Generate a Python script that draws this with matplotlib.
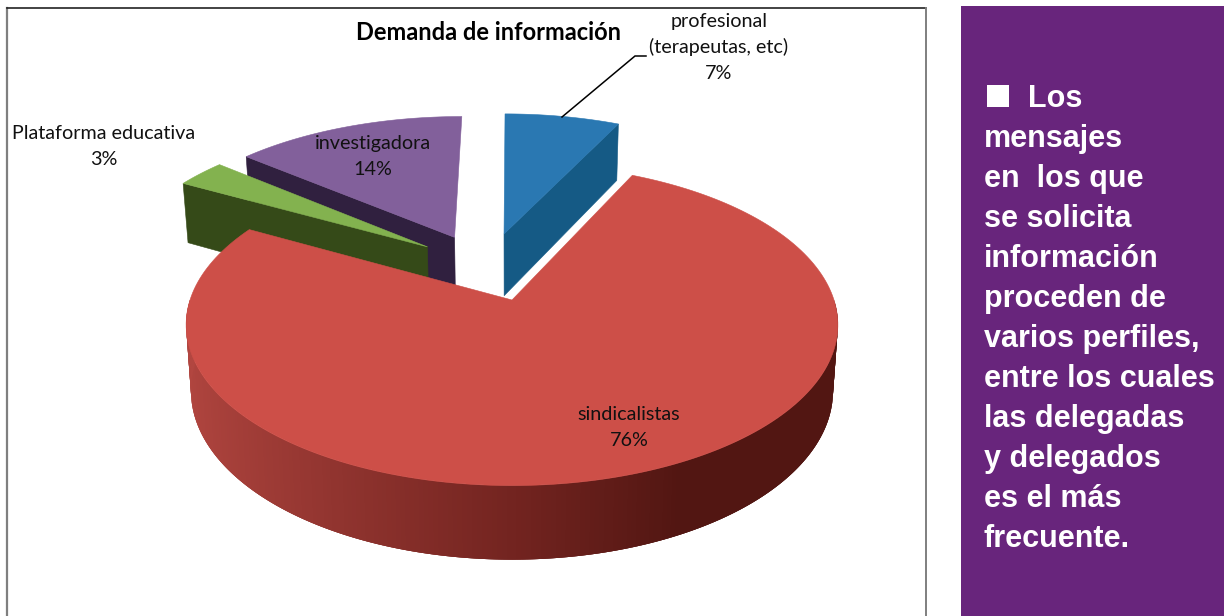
import numpy as np
import matplotlib
matplotlib.use("Agg")
import matplotlib.pyplot as plt
from matplotlib.patches import Polygon, Rectangle

categories = ["profesional\n(terapeutas, etc)", "sindicalistas", "Plataforma educativa", "investigadora"]
shares = [7, 76, 3, 14]
title = "Demanda de información"
panel_lines = ["Los", "mensajes", "en  los que", "se solicita", "información", "proceden de",
               "varios perfiles,", "entre los cuales", "las delegadas", "y delegados",
               "es el más", "frecuente."]

top_colors = ["#2a78b2", "#cd4f48", "#83b24f", "#82609b"]
side_colors = ["#155a85", "#8a2f2a", "#354a18", "#30203f"]
explode = [(-0.0265, 0.45), (0.0, 0.0), (-0.277, 0.357), (-0.19, 0.425)]
label_pos = [(719, 27), (629, 420), (104, 139), (373, 149)]

CX, CY, RX, RY, K, DEPTH, SHRINK = 512, 300, 322, 157, 0.154, 65, 0.015


def project(u, v, z=0.0):
    """Plane coordinates of the pie (u right, v back, z down) to pixels."""
    u, v = np.asarray(u, float), np.asarray(v, float)
    w = 1 + K * v
    s = 1 - SHRINK * z
    return CX + RX * u / w * s, CY - RY * v / w * s + DEPTH * z / w


def rim(a0, a1, off, z=0.0, n=200):
    t = np.radians(np.linspace(a0, a1, n))
    return project(off[0] + np.sin(t), off[1] + np.cos(t), z)


plt.rcParams["font.family"] = ["Lato", "DejaVu Sans"]
fig = plt.figure(figsize=(12.24, 6.16), dpi=100, facecolor="white")
ax = fig.add_axes([0, 0, 1, 1])
ax.set_xlim(0, 1224)
ax.set_ylim(616, 0)
ax.axis("off")

# chart frame
ax.plot([7, 7], [616, 8], color="#7f7f7f", lw=1.6, zorder=1)
ax.plot([7, 926], [8, 8], color="#222222", lw=1.2, zorder=1)
ax.plot([926, 926], [8, 616], color="#7f7f7f", lw=1.4, zorder=1)

edges = np.cumsum([0] + shares) / sum(shares) * 360
slices = [(i, edges[i], edges[i + 1]) for i in range(len(shares))]


def poly(x, y, color, zorder, lw=0.4):
    ax.add_patch(Polygon(np.column_stack([x, y]), closed=True, facecolor=color,
                         edgecolor=color if lw else "none", lw=lw, zorder=zorder))


order = {3: 2, 2: 3, 0: 4, 1: 5}
for i, a0, a1 in slices:
    off = explode[i]
    zo = order[i] * 10
    ax_u, ax_v = project(off[0], off[1])
    ax_ub, ax_vb = project(off[0], off[1], 1.0)
    if i == 1:
        # red cylinder wall with a horizontal shading ramp; each strip overlaps the next
        angles = np.linspace(90, 270, 241)
        for b0, b1 in zip(angles[:-1], angles[1:]):
            end = min(b1 + 1.5, 270)
            xt, yt = rim(b0, end, off, 0, 5)
            xb, yb = rim(b0, end, off, 1, 5)
            um = np.sin(np.radians((b0 + b1) / 2))
            col = [np.interp(-um, [-0.45, 0.0, 1.0], c) / 255 for c in
                   ((82, 115, 178), (22, 36, 70), (18, 32, 64))]
            poly(np.r_[xt, xb[::-1]], np.r_[yt, yb[::-1]], col, zo, lw=0)
    else:
        # radial face toward the viewer
        a = a1 if i == 0 else a0
        xr, yr = rim(a, a, off, 0, 1)
        xb, yb = rim(a, a, off, 1, 1)
        poly([xr[0], ax_u, ax_ub, xb[0]], [yr[0], ax_v, ax_vb, yb[0]], side_colors[i], zo)
    xr, yr = rim(a0, a1, off)
    poly(np.r_[ax_u, xr], np.r_[ax_v, yr], top_colors[i], zo + 1)

# leader line of the first label
ax.plot([562, 635, 646], [117, 56, 56], color="black", lw=1.1, zorder=60, solid_joinstyle="miter")

# data labels
for (name, share, (x, y)) in zip(categories, shares, label_pos):
    for j, line in enumerate(name.split("\n") + [f"{share}%"]):
        ax.text(x, y + j * 26, line, ha="center", va="baseline", fontsize=14.2,
                color="#111111", zorder=70)

ax.text(489, 40, title, ha="center", va="baseline", fontsize=17, fontweight="bold",
        color="black", zorder=70)

# side panel
ax.add_patch(Rectangle((961, 6), 263, 610, facecolor="#68257c", edgecolor="none", zorder=1))
ax.add_patch(Rectangle((987, 85), 22, 22, facecolor="white", edgecolor="none", zorder=2))
for k, line in enumerate(panel_lines):
    ax.text(1028 if k == 0 else 984, 107 + 40 * k, line, ha="left", va="baseline",
            fontsize=22, fontweight="bold", color="white",
            family=["Liberation Sans", "DejaVu Sans"], zorder=3)

fig.savefig("out.png", dpi=100, facecolor="white")
